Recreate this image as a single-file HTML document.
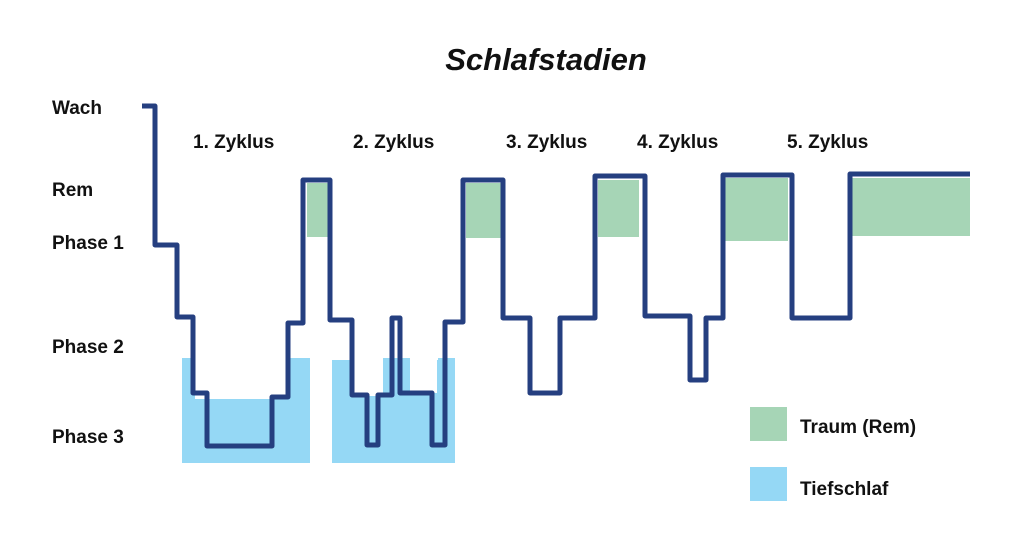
<!DOCTYPE html>
<html><head><meta charset="utf-8"><style>
html,body{margin:0;padding:0;background:#fff;}
svg text{font-family:"Liberation Sans",sans-serif;font-weight:bold;fill:#111;}
</style></head><body>
<svg width="1024" height="536" viewBox="0 0 1024 536" xmlns="http://www.w3.org/2000/svg">
<rect width="1024" height="536" fill="#fff"/>
<g fill="#a6d5b6">
<rect x="307" y="183" width="22" height="54"/>
<rect x="466" y="183" width="35" height="55"/>
<rect x="598" y="180" width="41" height="57"/>
<rect x="725" y="178" width="63" height="63"/>
<rect x="851" y="178" width="119" height="58"/>
</g>
<g fill="#95d8f5">
<path d="M182 358 H310 V463 H182 Z"/>
<path d="M332 360 H383 V358 H410 V360 H438 V358 H455 V463 H332 Z"/>
</g>
<g fill="#fff">
<rect x="195" y="356" width="93" height="43"/>
<rect x="353" y="356" width="30" height="40"/>
<rect x="410" y="356" width="27" height="37"/>
</g>
<path d="M142 106 H155 V245 H177 V317 H193 V393 H207 V446 H272 V397 H288 V323 H303 V180 H330 V320 H352 V395 H367 V445 H378 V395 H392 V318 H400 V393 H432 V445 H445 V322 H463 V180 H503 V318 H530 V393 H560 V318 H595 V176 H645 V316 H690 V380 H706 V318 H723 V175 H792 V318 H850 V174 H970" fill="none" stroke="#253f80" stroke-width="5" stroke-linejoin="round"/>
<text x="546" y="70" font-size="31" font-style="italic" text-anchor="middle">Schlafstadien</text>
<g font-size="19">
<text x="52" y="114">Wach</text>
<text x="52" y="196">Rem</text>
<text x="52" y="249">Phase 1</text>
<text x="52" y="353">Phase 2</text>
<text x="52" y="443">Phase 3</text>
<text x="193" y="148">1. Zyklus</text>
<text x="353" y="148">2. Zyklus</text>
<text x="506" y="148">3. Zyklus</text>
<text x="637" y="148">4. Zyklus</text>
<text x="787" y="148">5. Zyklus</text>
<text x="800" y="433">Traum (Rem)</text>
<text x="800" y="495">Tiefschlaf</text>
</g>
<rect x="750" y="407" width="37" height="34" fill="#a6d5b6"/>
<rect x="750" y="467" width="37" height="34" fill="#95d8f5"/>
</svg>
</body></html>
